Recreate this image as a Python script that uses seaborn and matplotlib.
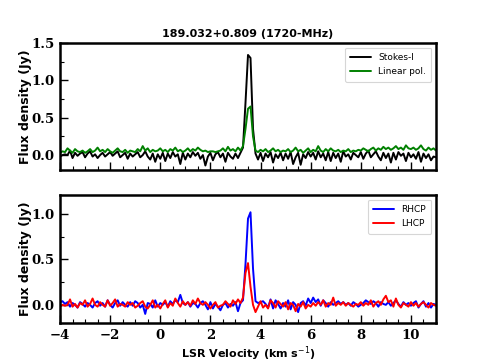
import numpy as np
import pandas as pd
import matplotlib
matplotlib.use("Agg")
import matplotlib.pyplot as plt
import seaborn as sns
from matplotlib.ticker import MultipleLocator

# velocity channels (km/s), 0.1 km/s spacing from -4 to 11
velocity = np.round(np.arange(-4.0, 11.05, 0.1), 2)

stokes_i = [
    -0.02, 0.00, 0.01, 0.00, 0.06, -0.04, 0.03, -0.01, 0.02, 0.04,
    -0.03, 0.02, 0.05, -0.02, 0.01, -0.04, 0.00, 0.03, -0.02, 0.01,
    0.04, -0.01, 0.02, 0.05, -0.03, 0.00, 0.03, -0.05, 0.02, -0.02,
    0.01, 0.04, -0.03, 0.00, 0.05, -0.02, -0.06, 0.02, -0.09, 0.01,
    -0.05, 0.03, -0.08, 0.02, -0.04, 0.04, -0.02, 0.01, -0.12, 0.03,
    -0.06, 0.02, -0.03, 0.04, -0.01, 0.03, -0.05, 0.00, -0.14, -0.02,
    0.03, -0.07, 0.01, 0.04, -0.03, 0.02, -0.09, 0.03, -0.02, -0.05,
    0.02, -0.04, 0.03, 0.10, 0.70, 1.34, 1.30, 0.35, 0.02, -0.06,
    0.03, -0.08, 0.02, -0.03, 0.04, -0.10, 0.01, -0.04, 0.03, -0.07,
    0.02, -0.05, 0.04, -0.12, -0.03, 0.03, -0.13, 0.01, -0.04, 0.04,
    -0.02, 0.03, -0.06, 0.05, -0.03, 0.02, -0.07, 0.04, -0.08, 0.03,
    -0.04, 0.02, -0.09, 0.05, -0.02, 0.01, -0.06, 0.03, 0.00, -0.03,
    0.04, -0.05, 0.02, 0.06, -0.03, 0.01, 0.05, -0.02, -0.07, 0.03,
    -0.04, 0.02, -0.10, 0.03, -0.06, 0.04, -0.01, 0.02, -0.08, 0.03,
    -0.03, 0.01, -0.05, 0.04, -0.09, 0.02, -0.04, 0.01, -0.07, -0.02,
    -0.03,
]

linear_pol = [
    0.03, 0.05, 0.04, 0.09, 0.06, 0.03, 0.08, 0.05, 0.04, 0.06,
    0.03, 0.05, 0.08, 0.04, 0.06, 0.10, 0.05, 0.07, 0.04, 0.08,
    0.05, 0.03, 0.06, 0.09, 0.05, 0.04, 0.07, 0.03, 0.06, 0.05,
    0.04, 0.08, 0.05, 0.12, 0.06, 0.09, 0.04, 0.07, 0.05, 0.06,
    0.09, 0.05, 0.07, 0.04, 0.08, 0.06, 0.10, 0.05, 0.07, 0.04,
    0.06, 0.09, 0.05, 0.08, 0.06, 0.10, 0.07, 0.05, 0.06, 0.04,
    0.05, 0.05, 0.04, 0.05, 0.06, 0.09, 0.05, 0.11, 0.06, 0.08,
    0.05, 0.10, 0.06, 0.12, 0.35, 0.62, 0.65, 0.25, 0.06, 0.04,
    0.07, 0.05, 0.08, 0.04, 0.06, 0.09, 0.05, 0.07, 0.04, 0.06,
    0.05, 0.08, 0.04, 0.06, 0.10, 0.05, 0.07, 0.03, 0.06, 0.09,
    0.04, 0.07, 0.05, 0.12, 0.06, 0.04, 0.08, 0.05, 0.09, 0.06,
    0.05, 0.07, 0.04, 0.06, 0.05, 0.08, 0.04, 0.06, 0.05, 0.07,
    0.06, 0.09, 0.07, 0.05, 0.08, 0.10, 0.06, 0.09, 0.07, 0.11,
    0.08, 0.10, 0.07, 0.09, 0.12, 0.08, 0.10, 0.07, 0.13, 0.09,
    0.08, 0.10, 0.07, 0.09, 0.13, 0.08, 0.06, 0.10, 0.07, 0.09,
    0.06,
]

rhcp = [
    0.03, 0.04, 0.01, 0.03, -0.02, 0.02, 0.00, -0.03, 0.03, 0.01,
    -0.02, 0.02, 0.00, -0.03, 0.02, 0.04, -0.01, 0.02, -0.02, 0.05,
    0.00, -0.03, 0.02, 0.05, -0.01, 0.03, 0.00, -0.02, 0.03, -0.01,
    0.04, 0.02, -0.03, 0.00, -0.10, 0.02, 0.01, -0.03, 0.05, -0.02,
    0.02, 0.00, 0.03, -0.02, 0.04, 0.01, 0.05, 0.03, 0.11, 0.02,
    0.00, 0.03, -0.02, 0.02, 0.01, -0.03, 0.02, 0.04, 0.00, -0.05,
    0.03, -0.04, 0.01, -0.02, -0.06, 0.00, 0.02, -0.03, 0.01, -0.01,
    0.03, -0.07, 0.02, 0.05, 0.45, 0.95, 1.02, 0.40, 0.04, 0.02,
    0.03, 0.04, 0.01, -0.03, 0.06, -0.04, 0.05, 0.01, -0.04, 0.02,
    -0.02, 0.05, -0.05, 0.03, 0.00, -0.08, 0.02, 0.04, -0.01, 0.07,
    0.02, 0.08, 0.03, 0.06, -0.01, 0.05, 0.02, -0.02, 0.03, 0.00,
    0.02, 0.04, 0.01, 0.03, 0.00, 0.02, -0.01, 0.03, 0.01, -0.02,
    0.00, 0.02, 0.05, 0.03, 0.01, 0.04, 0.02, -0.02, 0.03, 0.01,
    0.00, 0.03, -0.01, 0.02, 0.05, 0.01, -0.02, 0.03, 0.00, 0.02,
    -0.01, 0.02, 0.04, -0.03, 0.01, 0.04, -0.02, 0.02, -0.03, 0.01,
    0.00,
]

lhcp = [
    -0.02, 0.00, -0.01, 0.00, 0.06, -0.02, 0.01, -0.03, 0.02, 0.00,
    0.05, -0.02, 0.01, 0.07, 0.00, -0.02, 0.03, 0.00, -0.02, 0.05,
    -0.01, 0.02, 0.06, -0.02, 0.01, 0.00, -0.02, 0.03, 0.00, 0.02,
    -0.03, -0.01, 0.02, 0.04, -0.02, -0.04, 0.00, 0.05, -0.03, 0.00,
    -0.04, 0.01, 0.05, -0.03, 0.02, -0.01, 0.07, 0.02, -0.02, 0.04,
    0.00, 0.03, -0.01, 0.05, 0.01, 0.07, 0.02, 0.00, 0.03, 0.00,
    -0.04, 0.00, 0.03, -0.03, -0.01, 0.00, 0.04, 0.01, -0.02, 0.05,
    0.01, 0.06, 0.02, 0.08, 0.35, 0.46, 0.20, 0.00, -0.08, -0.02,
    0.04, -0.03, 0.00, -0.04, 0.05, 0.02, -0.03, 0.04, 0.01, -0.02,
    0.03, -0.05, 0.02, 0.00, -0.07, 0.01, -0.02, 0.03, -0.04, 0.00,
    -0.02, 0.02, -0.01, 0.03, 0.00, 0.05, -0.02, 0.02, 0.00, 0.08,
    -0.01, 0.02, 0.00, 0.03, -0.01, 0.02, 0.00, -0.02, 0.01, 0.00,
    0.03, -0.01, 0.02, 0.00, 0.05, -0.02, 0.02, 0.04, 0.00, 0.06,
    0.10, 0.03, 0.05, -0.02, 0.07, 0.00, -0.03, 0.02, 0.00, -0.02,
    0.03, -0.01, 0.02, -0.02, 0.01, 0.03, 0.00, -0.03, 0.02, 0.00,
    -0.01,
]

title = "189.032+0.809 (1720-MHz)"

sns.set_theme(style="ticks")
plt.rcParams['font.family'] = ['DejaVu Sans']
plt.rcParams['axes.edgecolor'] = 'black'
plt.rcParams['xtick.color'] = 'black'
plt.rcParams['ytick.color'] = 'black'
plt.rcParams['axes.labelcolor'] = 'black'
plt.rcParams['text.color'] = 'black'

top_df = pd.DataFrame({
    "v": np.concatenate([velocity, velocity]),
    "flux": np.concatenate([stokes_i, linear_pol]),
    "series": ["Stokes-I"] * len(velocity) + ["Linear pol."] * len(velocity),
})
bot_df = pd.DataFrame({
    "v": np.concatenate([velocity, velocity]),
    "flux": np.concatenate([rhcp, lhcp]),
    "series": ["RHCP"] * len(velocity) + ["LHCP"] * len(velocity),
})

W, H = 484, 363
fig = plt.figure(figsize=(W / 100, H / 100), dpi=100)
ax1 = fig.add_axes([60 / W, (H - 170) / H, 376 / W, 127 / H])
ax2 = fig.add_axes([60 / W, (H - 323) / H, 376 / W, 128 / H])

sns.lineplot(data=top_df, x="v", y="flux", hue="series",
             palette={"Stokes-I": "black", "Linear pol.": "green"},
             lw=1.4, ax=ax1, sort=False, estimator=None)
sns.lineplot(data=bot_df, x="v", y="flux", hue="series",
             palette={"RHCP": "blue", "LHCP": "red"},
             lw=1.4, ax=ax2, sort=False, estimator=None)

for ax, ylim in ((ax1, (-0.2, 1.5)), (ax2, (-0.2, 1.21))):
    ax.set_xlim(-4, 11)
    ax.set_ylim(*ylim)
    ax.xaxis.set_major_locator(MultipleLocator(2))
    ax.xaxis.set_minor_locator(MultipleLocator(0.5))
    ax.yaxis.set_major_locator(MultipleLocator(0.5))
    ax.yaxis.set_minor_locator(MultipleLocator(0.25))
    ax.tick_params(which="major", direction="in", length=6, width=1.0,
                   top=False, right=False, pad=4)
    ax.tick_params(which="minor", direction="in", length=3, width=0.8,
                   top=False, right=False)
    for s in ax.spines.values():
        s.set_linewidth(1.8)
        s.set_visible(True)
        s.set_edgecolor("black")
    for lbl in ax.get_yticklabels() + ax.get_xticklabels():
        lbl.set_fontfamily("DejaVu Serif")
        lbl.set_fontweight("bold")
        lbl.set_fontsize(9.5)
    ax.set_ylabel("Flux density (Jy)", fontsize=9, fontweight="bold")
    leg = ax.legend(loc="upper right", fontsize=6.5, frameon=True,
                    handlelength=2.3, borderpad=0.6, labelspacing=0.6,
                    fancybox=True)
    leg.get_frame().set_edgecolor("#cccccc")
    leg.get_frame().set_linewidth(0.8)
    leg.set_title(None)

ax1.set_xlabel("")
ax1.set_xticklabels([])
ax2.set_xlabel("LSR Velocity (km s$^{-1}$)", fontsize=8, fontweight="bold",
               labelpad=2)
for lbl in ax2.get_xticklabels():
    lbl.set_fontfamily("DejaVu Serif")
    lbl.set_fontweight("bold")
    lbl.set_fontsize(9.5)
ax1.set_title(title, fontsize=8, fontweight="bold", pad=4)
ax1.yaxis.set_label_coords(-0.075, 0.5)
ax2.yaxis.set_label_coords(-0.075, 0.5)

fig.savefig("out.png", dpi=100)
